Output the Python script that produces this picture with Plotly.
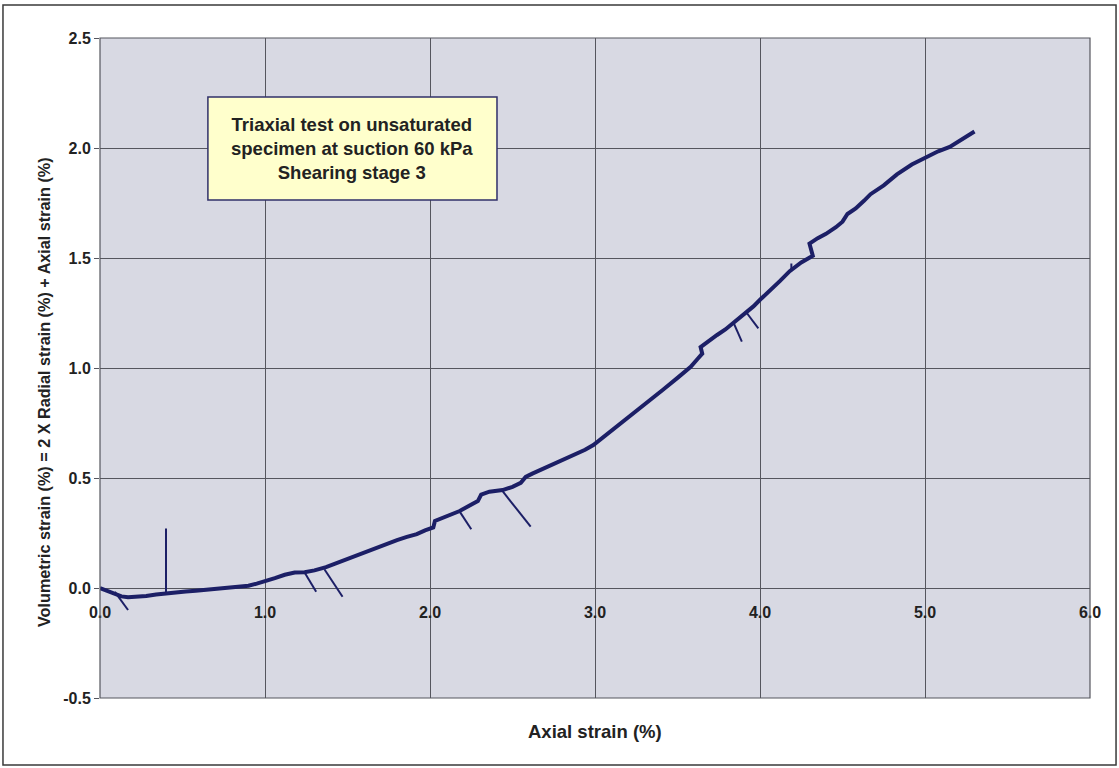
import plotly.graph_objects as go

# Main trace: axial strain (%) vs volumetric strain (%)
axial_strain = [
    0.00, 0.03, 0.08, 0.13, 0.17, 0.22, 0.28, 0.34, 0.40, 0.46, 0.52, 0.58,
    0.64, 0.70, 0.76, 0.82, 0.86, 0.90, 0.95, 1.00, 1.06, 1.12, 1.18, 1.24,
    1.30, 1.37, 1.44, 1.50, 1.56, 1.62, 1.68, 1.74, 1.80, 1.86, 1.92, 1.97,
    2.02, 2.03, 2.08, 2.13, 2.18, 2.24, 2.29, 2.31, 2.36, 2.44, 2.50, 2.55,
    2.58, 2.62, 2.68, 2.74, 2.81, 2.88, 2.94, 2.99, 3.05, 3.12, 3.21, 3.30,
    3.41, 3.50, 3.58, 3.62, 3.65, 3.64, 3.69, 3.74, 3.79, 3.84, 3.90, 3.96,
    4.00, 4.06, 4.12, 4.18, 4.25, 4.32, 4.30, 4.35, 4.40, 4.46, 4.50, 4.53,
    4.58, 4.63, 4.67, 4.75, 4.83, 4.92, 5.01, 5.08, 5.15, 5.21, 5.27, 5.30,
]
volumetric_strain = [
    0.000, -0.008, -0.025, -0.038, -0.042, -0.040, -0.036, -0.030, -0.024, -0.020, -0.016, -0.012,
    -0.008, -0.005, -0.003, 0.002, 0.008, 0.010, 0.020, 0.030, 0.045, 0.060, 0.070, 0.072,
    0.080, 0.095, 0.115, 0.130, 0.148, 0.165, 0.185, 0.203, 0.218, 0.232, 0.245, 0.262,
    0.275, 0.305, 0.320, 0.338, 0.350, 0.375, 0.395, 0.425, 0.438, 0.445, 0.460, 0.478,
    0.505, 0.520, 0.540, 0.558, 0.580, 0.605, 0.628, 0.650, 0.685, 0.730, 0.780, 0.835,
    0.900, 0.955, 1.005, 1.040, 1.065, 1.095, 1.125, 1.150, 1.175, 1.205, 1.240, 1.280,
    1.310, 1.350, 1.395, 1.440, 1.480, 1.510, 1.565, 1.590, 1.610, 1.640, 1.665, 1.700,
    1.725, 1.760, 1.790, 1.830, 1.880, 1.925, 1.960, 1.985, 2.005, 2.035, 2.065, 2.075,
]

# Logger glitches: start and end of each spurious excursion
spike_x_start = [0.09, 0.40, 1.24, 1.36, 2.18, 2.44, 3.84, 3.92, 4.19]
spike_y_start = [-0.018, -0.022, 0.070, 0.085, 0.347, 0.440, 1.205, 1.250, 1.440]
spike_x_end = [0.17, 0.40, 1.31, 1.47, 2.25, 2.61, 3.89, 3.99, 4.19]
spike_y_end = [-0.100, 0.270, -0.017, -0.040, 0.267, 0.279, 1.120, 1.180, 1.475]

x_ticks = [0, 1, 2, 3, 4, 5, 6]
x_tick_text = ["0.0", "1.0", "2.0", "3.0", "4.0", "5.0", "6.0"]
y_ticks = [-0.5, 0.0, 0.5, 1.0, 1.5, 2.0, 2.5]
y_tick_text = ["-0.5", "0.0", "0.5", "1.0", "1.5", "2.0", "2.5"]

LINE_COLOR = "#1C1F66"
GRID_COLOR = "#55565E"
TEXT_COLOR = "#222222"
FONT = "Liberation Sans, Arial, sans-serif"

fig = go.Figure()

fig.add_trace(go.Scatter(
    x=axial_strain, y=volumetric_strain, mode="lines",
    line=dict(color=LINE_COLOR, width=4), hoverinfo="skip", showlegend=False,
))

sx, sy = [], []
for x0, y0, x1, y1 in zip(spike_x_start, spike_y_start, spike_x_end, spike_y_end):
    sx += [x0, x1, None]
    sy += [y0, y1, None]
fig.add_trace(go.Scatter(
    x=sx, y=sy, mode="lines",
    line=dict(color=LINE_COLOR, width=2), hoverinfo="skip", showlegend=False,
))

# Frame around the whole chart
fig.add_shape(type="rect", xref="paper", yref="paper",
              x0=-0.098, x1=1.0263, y0=-0.1015, y1=1.05,
              line=dict(color="#3A3A3A", width=1.5), layer="below")
# Plot-area border
fig.add_shape(type="rect", xref="paper", yref="paper",
              x0=0, x1=1, y0=0, y1=1,
              line=dict(color=GRID_COLOR, width=1.2))
# Caption box
fig.add_shape(type="rect", xref="paper", yref="paper",
              x0=0.109, x1=0.401, y0=0.7545, y1=0.9106,
              fillcolor="#FFFFCC", line=dict(color="#30306A", width=1.5))
fig.add_annotation(
    xref="paper", yref="paper", x=0.255, y=0.8326,
    xanchor="center", yanchor="middle",
    text="Triaxial test on unsaturated<br>specimen at suction 60 kPa<br>Shearing stage 3",
    showarrow=False, align="center",
    font=dict(family=FONT, size=18.5, color=TEXT_COLOR, weight="bold"),
)

fig.update_layout(
    width=1119, height=768,
    margin=dict(l=100, r=29, t=38, b=70),
    paper_bgcolor="white",
    plot_bgcolor="#D8D9E3",
    font=dict(family=FONT, color=TEXT_COLOR),
    showlegend=False,
    xaxis=dict(
        range=[0, 6], tickvals=x_ticks, ticktext=x_tick_text,
        anchor="free", position=1/6,
        showgrid=True, gridcolor=GRID_COLOR, gridwidth=1.2,
        zeroline=False, showline=False, ticks="",
        ticklabelstandoff=13,
        tickfont=dict(size=16, weight="bold", color=TEXT_COLOR),
    ),
    yaxis=dict(
        range=[-0.5, 2.5], tickvals=y_ticks, ticktext=y_tick_text,
        showgrid=True, gridcolor=GRID_COLOR, gridwidth=1.2,
        zeroline=False, showline=False,
        ticks="outside", ticklen=5, tickcolor=GRID_COLOR,
        tickfont=dict(size=16, weight="bold", color=TEXT_COLOR),
    ),
)

# Axis titles
fig.add_annotation(
    xref="paper", yref="paper", x=0.5, y=-0.05, xanchor="center", yanchor="middle",
    text="Axial strain (%)", showarrow=False,
    font=dict(family=FONT, size=18.5, weight="bold", color=TEXT_COLOR),
)
fig.add_annotation(
    xref="paper", yref="paper", x=-0.056, y=0.463, xanchor="center", yanchor="middle",
    text="Volumetric strain (%) = 2 X Radial strain (%) + Axial strain (%)",
    textangle=-90, showarrow=False,
    font=dict(family=FONT, size=16.2, weight="bold", color=TEXT_COLOR),
)

fig.write_html("out.html")
